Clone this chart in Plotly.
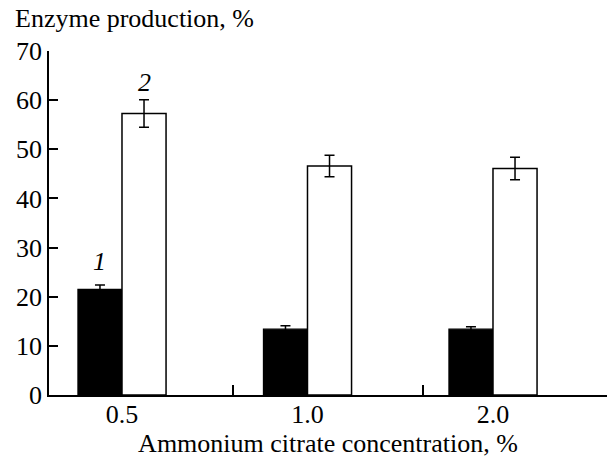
import plotly.graph_objects as go

categories = ["0.5", "1.0", "2.0"]
positions = [1, 2, 3]
series1_values = [21.5, 13.4, 13.4]
series1_errors = [0.9, 0.7, 0.5]
series2_values = [57.3, 46.6, 46.1]
series2_errors = [2.8, 2.2, 2.3]
series_labels = ["1", "2"]
y_ticks = [0, 10, 20, 30, 40, 50, 60, 70]
group_bounds = [1.6, 2.62]

FONT = "Liberation Serif, Times New Roman, serif"
BAR_W = 0.2375
TICK_SIZE = 26
TITLE_SIZE = 26

fig = go.Figure()
fig.add_trace(go.Bar(
    x=positions, y=series1_values, name=series_labels[0],
    marker=dict(color="black", line=dict(color="black", width=1.2)),
    error_y=dict(type="data", array=series1_errors, color="black", thickness=1.5, width=5),
))
fig.add_trace(go.Bar(
    x=positions, y=series2_values, name=series_labels[1],
    marker=dict(color="white", line=dict(color="black", width=1.5)),
    error_y=dict(type="data", array=series2_errors, color="black", thickness=1.5, width=5),
))
# invisible trace for the secondary x axis carrying the group boundary ticks
fig.add_trace(go.Scatter(x=group_bounds, y=[0, 0], xaxis="x2", mode="markers",
                         marker=dict(opacity=0), showlegend=False, hoverinfo="skip"))

x_range = [0.6065, 3.6146]

fig.update_layout(
    width=607, height=466,
    margin=dict(l=49, r=0, t=51, b=71, autoexpand=False),
    plot_bgcolor="white", paper_bgcolor="white",
    barmode="group", bargap=1 - 2 * BAR_W, bargroupgap=0,
    showlegend=False,
    font=dict(family=FONT, size=TICK_SIZE, color="black"),
    xaxis=dict(
        range=x_range, tickvals=positions, ticktext=categories,
        ticks="", showline=True, linecolor="black", linewidth=1.5,
        showgrid=False, zeroline=False, automargin=False,
        tickfont=dict(size=TICK_SIZE), ticklabelstandoff=-5,
        title=dict(text="Ammonium citrate concentration, %", font=dict(size=TITLE_SIZE), standoff=0),
    ),
    xaxis2=dict(
        range=x_range, overlaying="x", side="bottom", anchor="y",
        tickvals=group_bounds, ticktext=["", ""], ticks="inside", ticklen=10,
        tickwidth=1.5, tickcolor="black", showline=False, showgrid=False, zeroline=False,
    ),
    yaxis=dict(
        range=[0, 70], tickvals=y_ticks, ticks="inside", ticklen=9, tickwidth=1.5,
        tickcolor="black", showline=True, linecolor="black", linewidth=1.5,
        showgrid=False, zeroline=False, tickfont=dict(size=TICK_SIZE), automargin=False,
    ),
    annotations=[
        dict(text="Enzyme production, %", xref="paper", yref="paper", x=0, y=1,
             xanchor="left", yanchor="bottom", xshift=-36, yshift=16, showarrow=False,
             font=dict(size=TITLE_SIZE)),
        dict(text="<i>" + series_labels[0] + "</i>", x=positions[0] - BAR_W / 2,
             y=series1_values[0] + series1_errors[0], yanchor="bottom", yshift=7,
             showarrow=False, font=dict(size=TITLE_SIZE)),
        dict(text="<i>" + series_labels[1] + "</i>", x=positions[0] + BAR_W / 2,
             y=series2_values[0] + series2_errors[0], yanchor="bottom", yshift=1,
             showarrow=False, font=dict(size=TITLE_SIZE)),
    ],
)

fig.write_html("out.html", config={"displayModeBar": False},
               post_script="document.body.style.margin='0';")
